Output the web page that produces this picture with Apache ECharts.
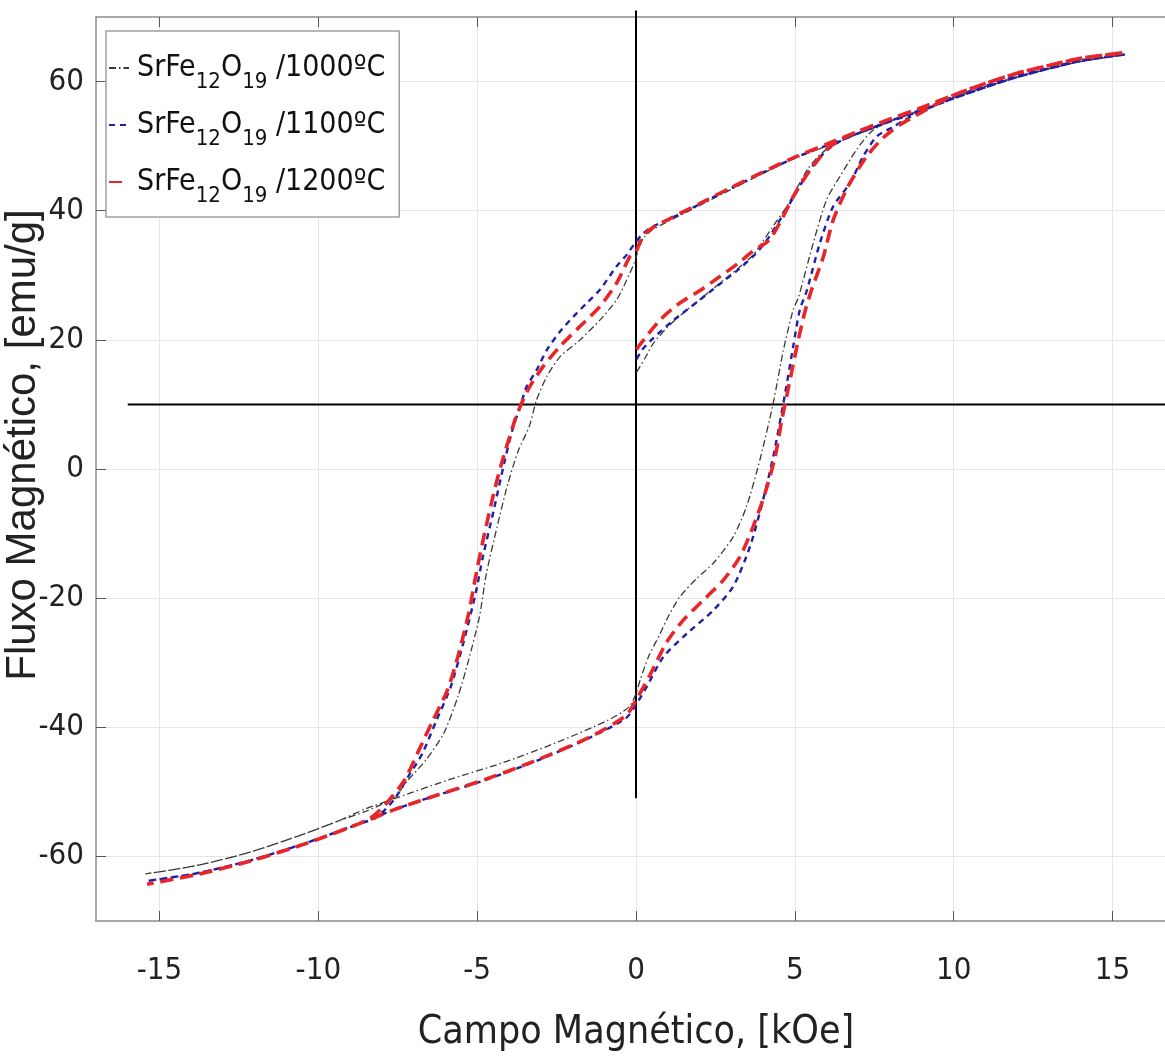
<!DOCTYPE html>
<html>
<head>
<meta charset="utf-8">
<script src="https://cdn.jsdelivr.net/npm/echarts@6/dist/echarts.min.js"></script>
<style>
  html, body { margin: 0; padding: 0; background: #ffffff; }
  #chart { width: 1165px; height: 1056px; }
</style>
</head>
<body>
<div id="chart"></div>
<script>
// Axis ticks
const xTicks = [-15, -10, -5, 0, 5, 10, 15];
const yTicks = [-60, -40, -20, 0, 20, 40, 60];

const seriesNames = ['SrFe12O19 /1000ºC', 'SrFe12O19 /1100ºC', 'SrFe12O19 /1200ºC'];

// Hysteresis loops [H (kOe), M (emu/g)] : initial curve, descending branch, ascending branch
const init1000 = [[0.02,15.0],[0.3,17.3],[0.55,19.5],[1.0,22.0],[1.5,24.2],[2.0,26.2],[2.64,28.8],[3.2,31.0],[3.7,33.2],[4.0,35.3],[4.4,38.2],[4.75,40.7],[5.1,43.8],[5.4,46.4],[5.7,48.2],[6.0,49.5],[6.4,50.6],[7.0,52.0],[8.0,53.9],[9.0,55.6],[10,57.5],[11,59.2],[12,60.7],[13,62.0],[14,63.1],[15.4,64.2]];
const down1000 = [[14,63.1],[13,62.0],[12,60.7],[11,59.2],[10,57.5],[9,55.6],[8,53.8],[7,51.9],[6,50.0],[5,48.1],[4,45.8],[3,43.3],[2,40.8],[1,38.3],[0.5,37.0],[0.24,35.8],[0.08,34.0],[-0.05,32.0],[-0.29,29.3],[-0.61,26.2],[-1.13,23.1],[-1.76,20.0],[-2.39,17.4],[-2.81,14.3],[-3.13,10.7],[-3.36,6.6],[-3.7,2.9],[-4.03,-2.2],[-4.37,-8.9],[-4.71,-16.2],[-4.93,-22.9],[-5.27,-29.6],[-5.61,-35.3],[-6.06,-41.0],[-6.62,-45.1],[-7.18,-48.2],[-7.63,-50.9],[-8.5,-53.0],[-9.32,-54.4],[-10.44,-56.5],[-12.13,-59.3],[-13.82,-61.4],[-15.44,-62.7]];
const up1000 = [[-13.82,-61.4],[-12.13,-59.3],[-10.44,-56.5],[-9.32,-54.4],[-8.5,-52.6],[-7.63,-51.1],[-5.94,-48.2],[-4.26,-45.6],[-2.57,-42.5],[-0.88,-38.9],[-0.21,-36.8],[0.0,-34.8],[0.13,-32.7],[0.4,-29.0],[0.76,-25.5],[1.0,-23.0],[1.38,-19.8],[1.9,-17.0],[2.43,-14.6],[3.06,-10.5],[3.48,-5.8],[3.9,1.4],[4.32,10.2],[4.64,18.4],[4.95,24.7],[5.11,26.5],[5.58,35.0],[6.0,41.7],[6.42,45.3],[6.95,49.5],[7.42,52.3],[8.0,53.9],[9,55.6],[10,57.5],[11,59.2],[12,60.7],[13,62.0],[14,63.1],[15.4,64.2]];

const init1100 = [[0.02,17.0],[0.2,18.5],[0.55,20.3],[1.17,23.0],[1.91,25.8],[2.6,28.5],[3.2,30.8],[3.7,33.0],[4.1,35.3],[4.5,38.3],[4.9,41.6],[5.3,45.0],[5.6,47.2],[6.0,49.3],[6.4,50.7],[7.0,52.0],[8,53.8],[9,55.5],[10,57.4],[11,59.1],[12,60.7],[13,62.0],[14,63.2],[15.4,64.2]];
const down1100 = [[14,63.3],[13,62.1],[12,60.9],[11,59.3],[10,57.6],[9,55.7],[8,53.9],[7,52.0],[6,50.1],[5,48.2],[4,45.9],[3,43.5],[2,41.0],[1,38.6],[0.55,37.6],[0.23,36.5],[0.0,35.2],[-0.29,33.2],[-0.61,31.4],[-1.13,27.8],[-1.55,25.7],[-1.97,23.6],[-2.39,21.3],[-2.81,18.4],[-3.13,15.3],[-3.44,12.8],[-3.65,9.6],[-3.86,6.6],[-4.15,0.9],[-4.48,-6.4],[-4.82,-13.6],[-5.05,-19.3],[-5.44,-27.0],[-5.83,-33.7],[-6.28,-38.9],[-6.73,-44.1],[-7.18,-47.7],[-7.63,-51.3],[-8.19,-54.0],[-8.75,-55.0],[-10.44,-58.0],[-12.13,-60.6],[-13.82,-62.6],[-15.39,-63.8]];
const up1100 = [[-13.82,-62.6],[-12.13,-60.6],[-10.44,-58.0],[-8.75,-55.0],[-7.63,-52.8],[-6.51,-50.9],[-4.82,-48.3],[-3.13,-45.2],[-1.45,-41.6],[-0.32,-38.6],[0.0,-36.5],[0.34,-33.7],[0.86,-29.1],[1.6,-25.5],[2.43,-21.9],[3.06,-18.2],[3.59,-12.0],[4.0,-4.8],[4.32,1.9],[4.64,10.2],[4.95,19.0],[5.16,24.7],[5.37,27.5],[5.79,35.0],[6.21,40.7],[6.74,44.3],[7.15,48.4],[7.58,51.5],[8.1,53.0],[9,55.5],[10,57.4],[11,59.1],[12,60.7],[13,62.0],[14,63.2],[15.4,64.2]];

const init1200 = [[0.02,18.5],[0.13,19.3],[0.76,23.1],[1.38,25.7],[2.0,27.6],[2.64,29.8],[3.2,31.8],[3.7,33.8],[4.2,35.5],[4.6,38.8],[4.95,42.2],[5.3,45.0],[5.58,46.9],[6.0,49.5],[6.4,50.9],[7.0,52.3],[8,54.2],[9,55.9],[10,57.9],[11,59.7],[12,61.3],[13,62.5],[14,63.6],[15.4,64.5]];
const down1200 = [[14,63.6],[13,62.5],[12,61.3],[11,59.7],[10,57.9],[9,56.0],[8,54.2],[7,52.3],[6,50.3],[5,48.3],[4,46.0],[3,43.6],[2,41.1],[1,38.6],[0.5,37.3],[0.2,36.0],[0.0,33.7],[-0.19,32.9],[-0.61,28.8],[-1.13,25.2],[-1.76,22.1],[-2.39,19.0],[-2.92,15.9],[-3.34,12.8],[-3.6,10.2],[-3.81,7.6],[-4.26,0.4],[-4.48,-3.8],[-4.77,-10.0],[-5.05,-16.7],[-5.27,-22.4],[-5.61,-29.1],[-5.94,-34.3],[-6.39,-38.9],[-6.84,-43.6],[-7.29,-48.2],[-7.86,-51.8],[-8.31,-53.9],[-8.75,-55.0],[-10.44,-58.1],[-12.13,-60.7],[-13.82,-62.8],[-15.39,-64.3]];
const up1200 = [[-13.82,-62.8],[-12.13,-60.7],[-10.44,-58.1],[-8.75,-55.0],[-7.63,-52.8],[-6.51,-50.9],[-4.82,-48.2],[-3.13,-45.1],[-1.45,-41.5],[-0.32,-38.2],[0.0,-35.8],[0.44,-31.9],[0.97,-26.8],[1.49,-23.4],[2.12,-20.3],[2.75,-17.2],[3.27,-13.6],[3.69,-8.9],[4.06,-3.8],[4.38,1.9],[4.59,7.6],[4.85,13.8],[5.11,20.0],[5.32,24.4],[5.53,27.8],[5.9,32.9],[6.21,38.6],[6.68,43.8],[7.26,48.4],[7.78,51.3],[8.31,53.3],[8.94,55.1],[10,57.9],[11,59.7],[12,61.3],[13,62.5],[14,63.6],[15.4,64.5]];

// Black reference lines
const vRefLine = [[0, -51], [0, 71]];
const hRefLine = [[-16, 10], [17, 10]];

const NARROW = '"Liberation Sans Narrow", "DejaVu Sans Condensed", "Liberation Sans", Arial, sans-serif';
const REGULAR = '"Liberation Sans", Arial, sans-serif';

const chart = echarts.init(document.getElementById('chart'), null, { renderer: 'canvas' });

const frameLine = { show: true, onZero: false, lineStyle: { color: '#8c8c8c', width: 1.5 } };
const axisTickStyle = { inside: true, length: 10, lineStyle: { color: '#555', width: 1 } };

const option = {
  backgroundColor: '#ffffff',
  animation: false,
  grid: {
    left: 96, top: 17, width: 1080, height: 904,
    outerBoundsMode: 'none', containLabel: false, show: false
  },
  legend: {
    data: seriesNames,
    orient: 'vertical',
    left: 106, top: 31,
    padding: [12, 14, 10, 2],
    itemGap: 7,
    itemWidth: 20,
    itemHeight: 14,
    backgroundColor: '#ffffff',
    borderColor: '#a0a0a0',
    borderWidth: 1.5,
    itemStyle: { opacity: 0 },
    formatter: function (name) {
      return name.replace('Fe12O19', 'Fe{s|12}O{s|19}');
    },
    textStyle: {
      fontFamily: NARROW, fontSize: 30, color: '#111', lineHeight: 50,
      padding: [0, 0, 0, 3],
      rich: {
        s: { fontFamily: NARROW, fontSize: 22, color: '#111', lineHeight: 22, verticalAlign: 'bottom', padding: [20, 0, 0, 0] }
      }
    }
  },
  xAxis: [{
    type: 'value', min: -17, max: 17, position: 'bottom',
    name: 'Campo Magnético, [kOe]', nameLocation: 'middle', nameGap: 92, nameMoveOverlap: false,
    nameTextStyle: { fontFamily: NARROW, fontSize: 39, color: '#222' },
    axisLine: frameLine,
    axisTick: Object.assign({ customValues: xTicks }, axisTickStyle),
    axisLabel: { customValues: xTicks, fontFamily: NARROW, fontSize: 31, color: '#222', margin: 34 },
    splitLine: { show: true, lineStyle: { color: '#e6e6e6', width: 1 } }
  }, {
    type: 'value', min: -17, max: 17, position: 'top',
    axisLine: frameLine,
    axisTick: Object.assign({ customValues: xTicks }, axisTickStyle),
    axisLabel: { show: false },
    splitLine: { show: false }
  }],
  yAxis: [{
    type: 'value', min: -70, max: 70, position: 'left',
    name: 'Fluxo Magnético, [emu/g]', nameLocation: 'middle', nameGap: 52, nameRotate: 90, nameMoveOverlap: false,
    nameTextStyle: { fontFamily: REGULAR, fontSize: 42, color: '#222', padding: [0, 0, 0, 48] },
    axisLine: frameLine,
    axisTick: Object.assign({ customValues: yTicks }, axisTickStyle),
    axisLabel: { customValues: yTicks, fontFamily: NARROW, fontSize: 31, color: '#222', margin: 12 },
    splitLine: { show: true, lineStyle: { color: '#e6e6e6', width: 1 } }
  }],
  series: [
    {
      name: 'vRef', type: 'line', data: vRefLine, clip: false, silent: true, z: 2,
      symbol: 'none', lineStyle: { color: '#000', width: 2 }
    },
    {
      name: 'hRef', type: 'line', data: hRefLine, clip: false, silent: true, z: 2,
      symbol: 'none', lineStyle: { color: '#000', width: 2 }
    },
    {
      name: seriesNames[0], type: 'line', z: 3, symbol: 'none', smooth: 0.25,
      data: init1000.concat(down1000, up1000),
      color: '#3a3a3a',
      lineStyle: { color: '#3a3a3a', width: 1.3, type: [7, 3, 1.5, 3] }
    },
    {
      name: seriesNames[1], type: 'line', z: 4, symbol: 'none', smooth: 0.25,
      data: init1100.concat(down1100, up1100),
      color: '#1f1fa8',
      lineStyle: { color: '#1f1fa8', width: 2.4, type: [6, 5] }
    },
    {
      name: seriesNames[2], type: 'line', z: 5, symbol: 'none', smooth: 0.25,
      data: init1200.concat(down1200, up1200),
      color: '#e8262a',
      lineStyle: { color: '#e8262a', width: 3.6, type: [13, 7] }
    }
  ]
};

chart.setOption(option);
</script>
</body>
</html>
